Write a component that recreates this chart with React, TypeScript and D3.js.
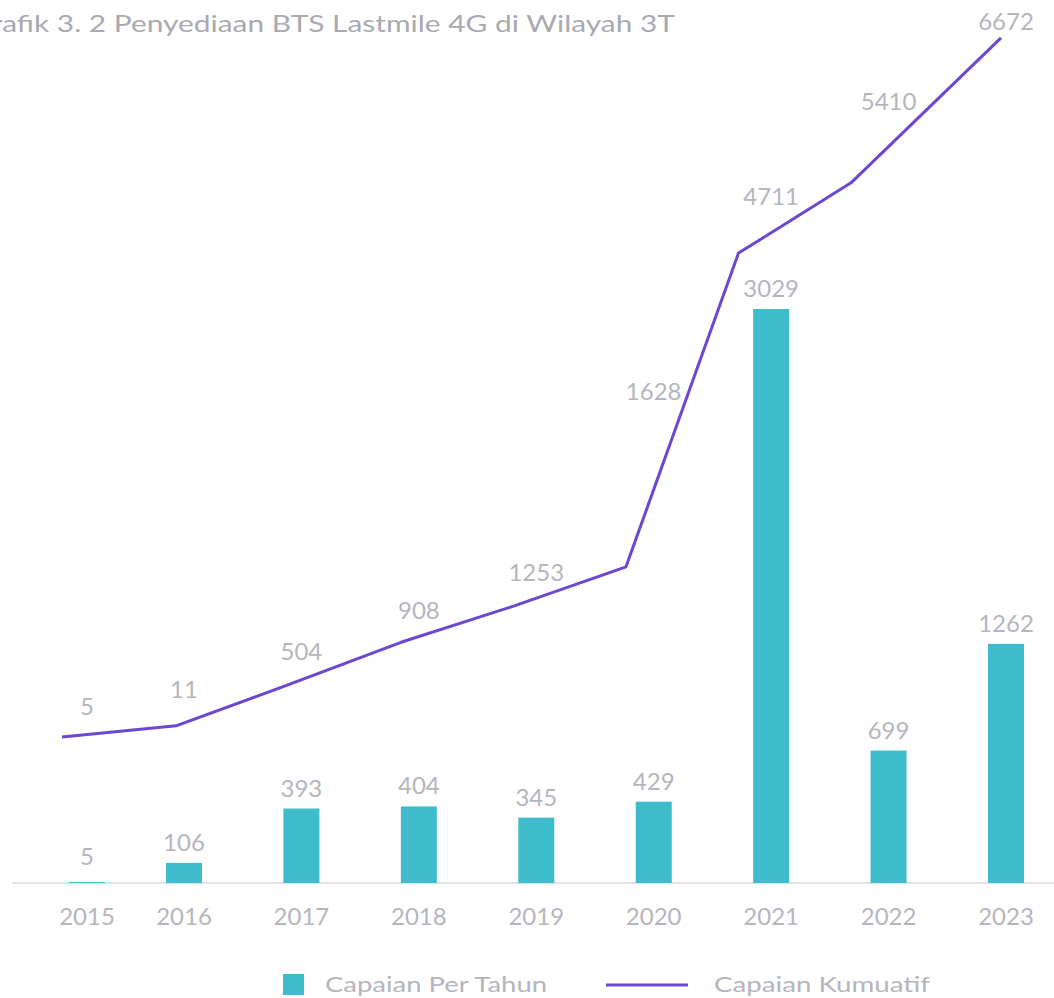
import React from "react";
import * as d3 from "d3";

// ---- data ----
const years = [2015, 2016, 2017, 2018, 2019, 2020, 2021, 2022, 2023];
const perYear = [5, 106, 393, 404, 345, 429, 3029, 699, 1262];
const cumulativeLabels = ["5", "11", "504", "908", "1253", "1628", "4711", "5410", "6672"];
// cumulative values as drawn by the line in the picture
const cumulativePlotted = [5, 111, 504, 908, 1253, 1628, 4620, 5290, 6672];
const titleText = "Grafik 3. 2 Penyediaan BTS Lastmile 4G di Wilayah 3T";
const legendLabels = ["Capaian Per Tahun", "Capaian Kumuatif"];

const W = 1054;
const H = 998;
const BAR = "#3fbccb";
const LINE = "#6c47d2";
const TEXT = "#b5b5bd";
const FONT = "Lato, 'Open Sans', sans-serif";

export default function App() {
  // category centres (labels & bars)
  const xCenter = d3.scaleLinear().domain([2015, 2016, 2023]).range([87, 184, 1006]);
  // line x positions
  const xLine = d3.scaleLinear().domain([2015, 2016, 2022, 2023]).range([62, 176, 851, 1001]);
  const yBar = d3.scaleLinear().domain([0, 3500]).range([883, 883 - 3500 * 0.1895]);
  const yLine = d3.scaleLinear().domain([0, 7000]).range([737.5, 737.5 - 7000 * 0.10485]);

  const pts: [number, number][] = years.map((y, i) => [xLine(y), yLine(cumulativePlotted[i])]);
  const lineGen = d3.line<[number, number]>().x((d) => d[0]).y((d) => d[1]);
  const lineAt = d3.scaleLinear().domain(pts.map((p) => p[0])).range(pts.map((p) => p[1]));

  const barW = 36;
  const labelLift = 20;
  const nudge = [0, -5, 0, 2, 3, -70, -8, -17, 17];

  return (
    <svg
      width={W}
      height={H}
      style={{ position: "absolute", left: 0, top: 0, background: "#fff" }}
      fontFamily={FONT}
    >
      <text x={-30} y={32} fontSize={24} fill="#a9a9b1" textLength={705} lengthAdjust="spacingAndGlyphs">
        {titleText}
      </text>

      {/* baseline */}
      <line x1={12} x2={W} y1={yBar(0)} y2={yBar(0)} stroke="#e3e3e6" strokeWidth={2} />

      {/* bars */}
      {years.map((y, i) => (
        <rect
          key={"b" + y}
          x={xCenter(y) - barW / 2}
          y={yBar(perYear[i])}
          width={barW}
          height={yBar(0) - yBar(perYear[i])}
          fill={BAR}
        />
      ))}
      {years.map((y, i) => (
        <text
          key={"bl" + y}
          x={xCenter(y)}
          y={Math.min(yBar(perYear[i]) - 12, 865)}
          textAnchor="middle"
          fontSize={24}
          fill={TEXT}
        >
          {perYear[i]}
        </text>
      ))}

      {/* year labels */}
      {years.map((y) => (
        <text key={"x" + y} x={xCenter(y)} y={925} textAnchor="middle" fontSize={24} fill={TEXT}>
          {y}
        </text>
      ))}

      {/* cumulative line */}
      <path d={lineGen(pts) || ""} fill="none" stroke={LINE} strokeWidth={3} strokeLinejoin="round" />
      {years.map((y, i) => (
        <text
          key={"ll" + y}
          x={xCenter(y)}
          y={lineAt(xCenter(y)) - labelLift + nudge[i]}
          textAnchor="middle"
          fontSize={24}
          fill={TEXT}
        >
          {cumulativeLabels[i]}
        </text>
      ))}

      {/* legend */}
      <rect x={283} y={974} width={21} height={21} fill={BAR} />
      <text x={325} y={992} fontSize={22} fill={TEXT} textLength={222} lengthAdjust="spacingAndGlyphs">
        {legendLabels[0]}
      </text>
      <line x1={606} x2={688} y1={985} y2={985} stroke={LINE} strokeWidth={3} />
      <text x={714} y={992} fontSize={22} fill={TEXT} textLength={216} lengthAdjust="spacingAndGlyphs">
        {legendLabels[1]}
      </text>
    </svg>
  );
}
